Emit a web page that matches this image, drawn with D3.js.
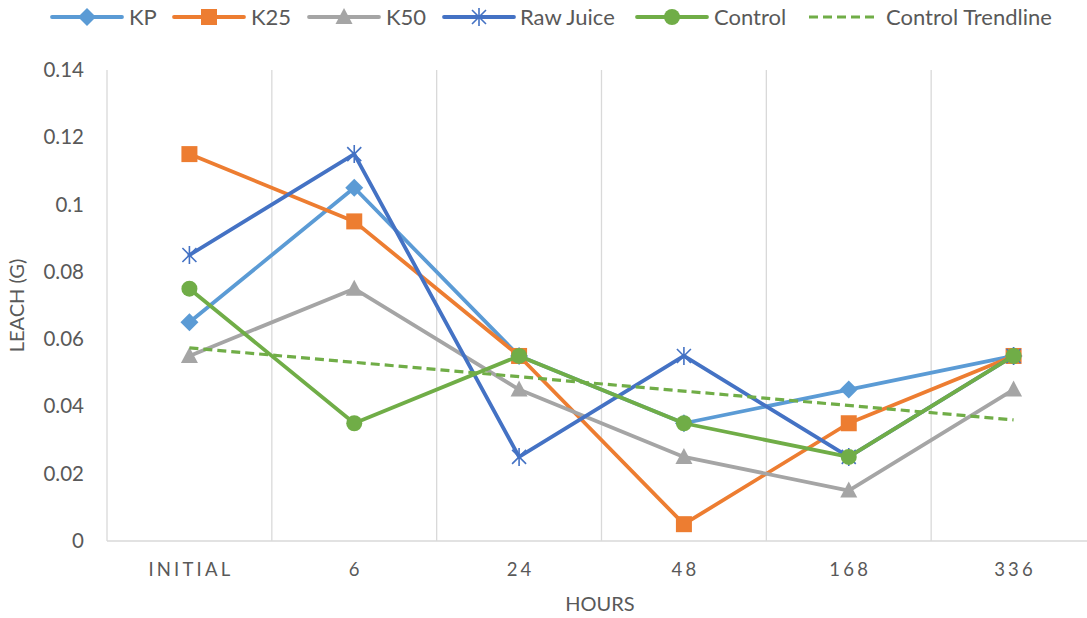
<!DOCTYPE html>
<html>
<head>
<meta charset="utf-8">
<script src="https://cdn.jsdelivr.net/npm/d3@7"></script>
<style>
  body { margin: 0; background: #fff; }
  svg { display: block; font-family: Lato, "Open Sans", sans-serif; }
</style>
</head>
<body>
<div id="chart"></div>
<script>
// data
const hours = ["INITIAL", "6", "24", "48", "168", "336"];
const kp = [0.065, 0.105, 0.055, 0.035, 0.045, 0.055];
const k25 = [0.115, 0.095, 0.055, 0.005, 0.035, 0.055];
const k50 = [0.055, 0.075, 0.045, 0.025, 0.015, 0.045];
const rawJuice = [0.085, 0.115, 0.025, 0.055, 0.025, 0.055];
const control = [0.075, 0.035, 0.055, 0.035, 0.025, 0.055];
const controlTrend = [0.0574, 0.0360]; // first and last category
const yTicks = [0, 0.02, 0.04, 0.06, 0.08, 0.1, 0.12, 0.14];

const series = [
  { name: "KP", values: kp, color: "#5B9BD5", marker: "diamond" },
  { name: "K25", values: k25, color: "#ED7D31", marker: "square" },
  { name: "K50", values: k50, color: "#A5A5A5", marker: "triangle" },
  { name: "Raw Juice", values: rawJuice, color: "#4472C4", marker: "star" },
  { name: "Control", values: control, color: "#70AD47", marker: "circle" }
];

const width = 1087, height = 618;
const marginLeft = 107, marginTop = 70, marginBottom = 77;
const plotRight = 1096;

const svg = d3.select("#chart").append("svg")
  .attr("width", width).attr("height", height)
  .attr("viewBox", [0, 0, width, height]);

const x = d3.scaleBand().domain(hours).range([marginLeft, plotRight]);
const xc = d => x(d) + x.bandwidth() / 2;
const y = d3.scaleLinear().domain([0, 0.14]).range([height - marginBottom, marginTop]);

// vertical gridlines at category boundaries
svg.append("g")
  .attr("stroke", "#D9D9D9").attr("stroke-width", 1.3)
  .selectAll("line")
  .data(hours)
  .join("line")
  .attr("x1", d => x(d)).attr("x2", d => x(d))
  .attr("y1", y(0.14)).attr("y2", y(0));

// x axis
svg.append("line")
  .attr("x1", marginLeft).attr("x2", width)
  .attr("y1", y(0)).attr("y2", y(0))
  .attr("stroke", "#D9D9D9").attr("stroke-width", 1.5);

svg.append("g")
  .selectAll("text")
  .data(hours)
  .join("text")
  .attr("x", d => xc(d) + 1.5)
  .attr("y", y(0) + 35)
  .attr("text-anchor", "middle")
  .attr("font-size", 18.5)
  .attr("letter-spacing", "3.2px")
  .attr("fill", "#595959")
  .text(d => d);

// y tick labels
svg.append("g")
  .selectAll("text")
  .data(yTicks)
  .join("text")
  .attr("x", 84)
  .attr("y", d => y(d) + 7)
  .attr("text-anchor", "end")
  .attr("font-size", 20.5)
  .attr("fill", "#595959")
  .text(d => d3.format("~g")(d));

// axis titles
svg.append("text")
  .attr("x", 600).attr("y", 611)
  .attr("text-anchor", "middle")
  .attr("font-size", 20).attr("fill", "#595959")
  .text("HOURS");

svg.append("text")
  .attr("transform", `translate(24,${y(0.07)}) rotate(-90)`)
  .attr("text-anchor", "middle")
  .attr("font-size", 20).attr("fill", "#595959")
  .text("LEACH (G)");

// marker drawing
function drawMarker(g, type, color) {
  if (type === "diamond") {
    g.append("path").attr("d", "M0,-9L9,0L0,9L-9,0Z").attr("fill", color);
  } else if (type === "square") {
    g.append("rect").attr("x", -8).attr("y", -8).attr("width", 16).attr("height", 16).attr("fill", color);
  } else if (type === "triangle") {
    g.append("path").attr("d", "M0,-9L8.5,7L-8.5,7Z").attr("fill", color);
  } else if (type === "circle") {
    g.append("circle").attr("r", 8).attr("fill", color);
  } else if (type === "star") {
    g.append("path")
      .attr("d", "M-7,-7L7,7M-7,7L7,-7M0,-9L0,9")
      .attr("stroke", color).attr("stroke-width", 1.6).attr("fill", "none");
  }
}

const line = d3.line().x((d, i) => xc(hours[i])).y(d => y(d));

series.forEach(s => {
  svg.append("path")
    .datum(s.values)
    .attr("fill", "none")
    .attr("stroke", s.color)
    .attr("stroke-width", 3.8)
    .attr("stroke-linejoin", "round")
    .attr("stroke-linecap", "round")
    .attr("d", line);
  s.values.forEach((v, i) => {
    const g = svg.append("g").attr("transform", `translate(${xc(hours[i])},${y(v)})`);
    drawMarker(g, s.marker, s.color);
  });
});

// control trendline
svg.append("line")
  .attr("x1", xc(hours[0])).attr("y1", y(controlTrend[0]))
  .attr("x2", xc(hours[hours.length - 1])).attr("y2", y(controlTrend[1]))
  .attr("stroke", "#70AD47").attr("stroke-width", 3.2)
  .attr("stroke-dasharray", "9,5");

// legend
const legendItems = [
  { ...series[0], lx: 52, tx: 129 },
  { ...series[1], lx: 174, tx: 251 },
  { ...series[2], lx: 309, tx: 386 },
  { ...series[3], lx: 444, tx: 520 },
  { ...series[4], lx: 637, tx: 714 },
  { name: "Control Trendline", color: "#70AD47", marker: "dash", lx: 809, tx: 886 }
];

const legend = svg.append("g");
legendItems.forEach(it => {
  const ly = 17;
  if (it.marker === "dash") {
    legend.append("line")
      .attr("x1", it.lx).attr("x2", it.lx + 70).attr("y1", ly).attr("y2", ly)
      .attr("stroke", it.color).attr("stroke-width", 3.2)
      .attr("stroke-dasharray", "9,5");
  } else {
    legend.append("line")
      .attr("x1", it.lx).attr("x2", it.lx + 70).attr("y1", ly).attr("y2", ly)
      .attr("stroke", it.color).attr("stroke-width", 3.8)
      .attr("stroke-linecap", "round");
    const g = legend.append("g").attr("transform", `translate(${it.lx + 35},${ly})`);
    drawMarker(g, it.marker, it.color);
  }
  legend.append("text")
    .attr("x", it.tx).attr("y", ly + 7.5)
    .attr("font-size", 22).attr("fill", "#595959")
    .text(it.name);
});
</script>
</body>
</html>
